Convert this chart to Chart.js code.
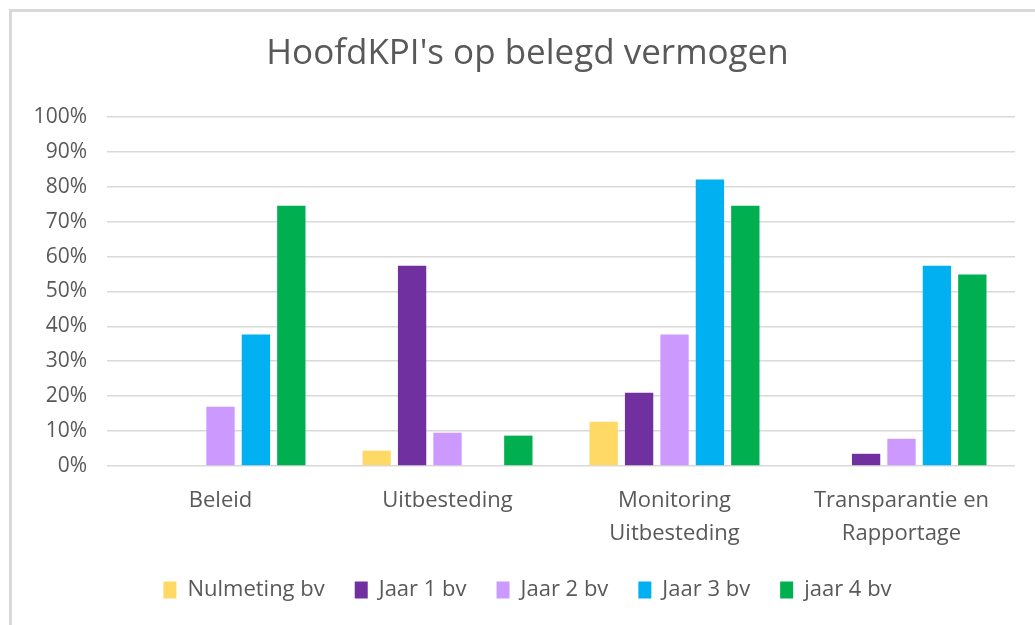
<!DOCTYPE html>
<html>
<head>
<meta charset="utf-8">
<script src="https://cdn.jsdelivr.net/npm/chart.js@4"></script>
<style>
    html, body { margin: 0; padding: 0; overflow: hidden; background: #fff; }
    #wrap { position: absolute; left: 0; top: 0; width: 1035px; height: 625px; }
    #frame { position: absolute; left: 9px; top: 9px; width: 1060px; height: 660px; border: 3px solid #d9d9d9; pointer-events: none; }
</style>
</head>
<body>
<div id="frame"></div>
<div id="wrap"><canvas id="kpiChart" width="1035" height="625"></canvas></div>
<script>
// ===== DATA =====
const categories = ['Beleid', 'Uitbesteding', ['Monitoring', 'Uitbesteding'], ['Transparantie en', 'Rapportage']];
const seriesNames = ['Nulmeting bv', 'Jaar 1 bv', 'Jaar 2 bv', 'Jaar 3 bv', 'jaar 4 bv'];
const nulmeting = [null, 0.044, 0.127, null];
const jaar1 = [null, 0.574, 0.210, 0.035];
const jaar2 = [0.170, 0.095, 0.377, 0.078];
const jaar3 = [0.377, null, 0.821, 0.574];
const jaar4 = [0.746, 0.087, 0.746, 0.549];
const seriesColors = ['#FFD966', '#7030A0', '#CC99FF', '#00B0F0', '#00B050'];

const allSeries = [nulmeting, jaar1, jaar2, jaar3, jaar4];

document.addEventListener('DOMContentLoaded', () => {
    const ctx = document.getElementById('kpiChart');
    new Chart(ctx, {
        type: 'bar',
        data: {
            labels: categories,
            datasets: allSeries.map((vals, i) => ({
                label: seriesNames[i],
                data: vals,
                backgroundColor: seriesColors[i],
                categoryPercentage: 0.78,
                barPercentage: 0.8
            }))
        },
        options: {
            responsive: false,
            animation: false,
            layout: { padding: { left: 20, right: 20, bottom: 14 } },
            plugins: {
                title: {
                    display: true,
                    text: "HoofdKPI's op belegd vermogen",
                    color: '#595959',
                    font: { family: 'Open Sans', size: 35, weight: 'normal' },
                    padding: { top: 33, bottom: 42 }
                },
                legend: {
                    position: 'bottom',
                    labels: {
                        color: '#595959',
                        font: { family: 'Open Sans', size: 22 },
                        boxWidth: 13,
                        boxHeight: 17,
                        padding: 30
                    }
                },
                tooltip: { enabled: false }
            },
            scales: {
                x: {
                    afterFit(scale) { scale.height = scale.height - 11; },
                    grid: { display: false },
                    border: { display: false },
                    ticks: {
                        color: '#595959',
                        font: { family: 'Open Sans', size: 22, lineHeight: 1.5 },
                        padding: 10,
                        maxRotation: 0
                    }
                },
                y: {
                    min: 0,
                    max: 1,
                    afterFit(scale) { scale.width = 87; },
                    grid: { color: '#d9d9d9', lineWidth: 1.6, drawTicks: false },
                    border: { display: false },
                    ticks: {
                        stepSize: 0.1,
                        padding: 20,
                        color: '#595959',
                        font: { family: 'Open Sans', size: 21 },
                        callback: v => Math.round(v * 100) + '%'
                    }
                }
            }
        },
        plugins: [{
            // title and legend sit a little right of centre in the original
            id: 'nudgeBoxes',
            afterLayout(chart) {
                [chart.titleBlock, chart.legend].forEach(box => {
                    if (box) { box.left += 10; box.right += 10; }
                });
            }
        }]
    });
});
</script>
</body>
</html>
